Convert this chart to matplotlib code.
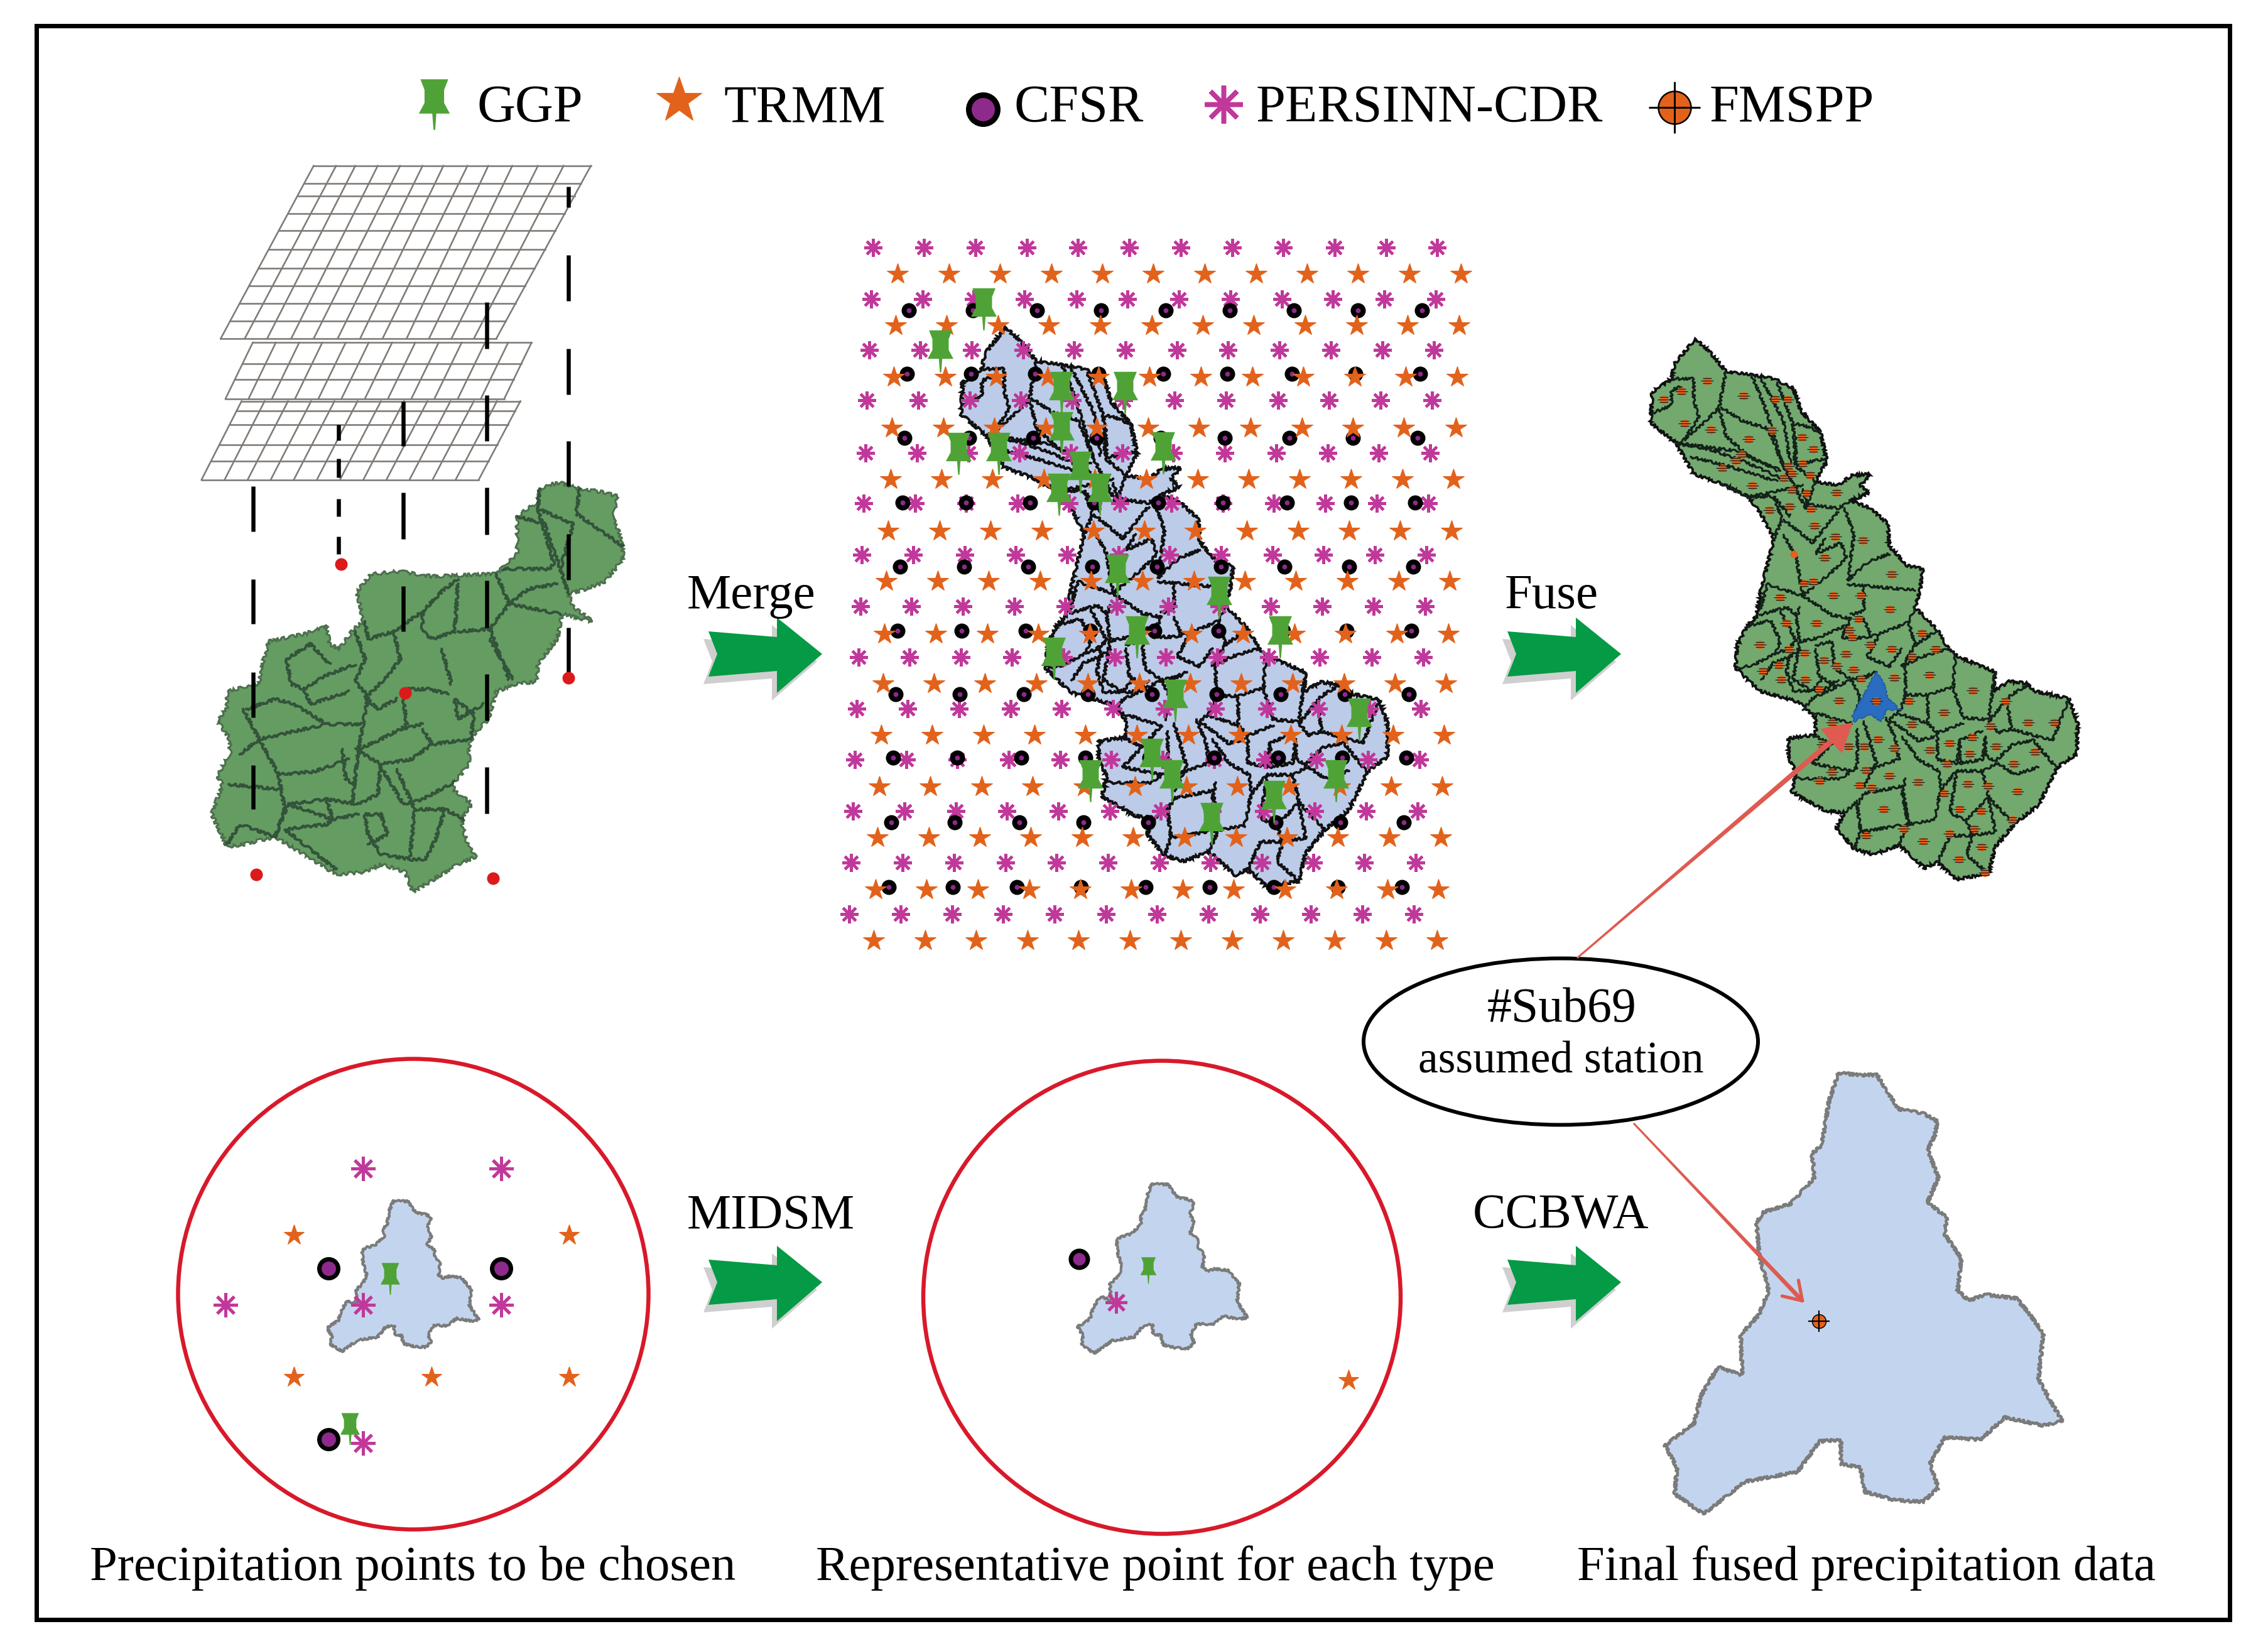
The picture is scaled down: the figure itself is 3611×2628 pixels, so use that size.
import numpy as np
import matplotlib
matplotlib.use("Agg")
import matplotlib.pyplot as plt
from matplotlib.path import Path
from matplotlib.patches import Ellipse, Rectangle, FancyArrowPatch

plt.rcParams['font.family'] = ['Liberation Serif', 'DejaVu Serif']

W, H = 3612, 2628
P = 0.72  # px -> pt at dpi 100

ORANGE = '#e2621b'; PINK = '#c0399a'; PURPLE = '#8e2a8c'; PINGREEN = '#4fa336'
RED = '#d8192a'; ARROW = '#df5a50'

# ---- legend / text
legend_labels = ['GGP', 'TRMM', 'CFSR', 'PERSINN-CDR', 'FMSPP']
legend_text_x = [760, 1152, 1615, 2000, 2722]
step_labels = ['Merge', 'Fuse', 'MIDSM', 'CCBWA']
step_xy = [(1094, 968), (2396, 968), (1094, 1955), (2345, 1955)]
captions = ['Precipitation points to be chosen', 'Representative point for each type', 'Final fused precipitation data']
caption_x = [143, 1299, 2511]

# ---- panel A (crop 280,220,800,1250)
grid1_top = [430, 500, 560, 630, 700, 770, 835, 910, 975, 1050, 1130, 1210, 1295]
grid1_bot = [140, 215, 285, 360, 430, 505, 575, 645, 720, 790, 860, 930, 1000]
grid1_rows = [55, 90, 115, 150, 185, 222, 260, 295, 330, 365, 400]
grid2_top = [240, 312, 385, 457, 530, 602, 675, 747, 820, 892, 965, 1037, 1110]
grid2_bot = [155, 227, 300, 372, 445, 517, 590, 662, 735, 807, 880, 952, 1025]
grid2_rows = [408, 450, 482, 520]
grid3_top = [205, 277, 350, 422, 495, 567, 640, 712, 785, 857, 930, 1002, 1075]
grid3_bot = [80, 152, 224, 296, 368, 440, 512, 585, 657, 729, 801, 873, 945]
grid3_rows = [525, 545, 572, 612, 645, 682]
dash_segments = [
    (1225, [(97, 138), (233, 325), (420, 512), (605, 695), (790, 882), (977, 1070)]),
    (970, [(328, 420), (513, 605), (698, 792), (883, 977), (1070, 1163), (1256, 1348)]),
    (710, [(525, 615), (708, 800), (895, 985)]),
    (507, [(572, 603), (640, 678), (720, 755), (795, 830)]),
    (242, [(695, 785), (880, 970), (1066, 1157), (1252, 1340)]),
]
red_dots = [(515, 850), (716, 1108), (1225, 1077), (250, 1470), (990, 1478)]
map_a = [(1135,700),(1165,692),(1200,688),(1260,700),(1320,705),(1378,715),(1365,760),(1385,790),(1395,815),(1395,840),(1340,885),(1280,900),(1225,910),(1240,935),(1300,965),(1240,955),(1205,950),(1190,1000),(1130,1050),(1125,1085),(1060,1090),(1000,1105),(975,1160),(930,1190),(915,1215),(915,1250),(870,1285),(865,1300),(925,1330),(890,1360),(905,1400),(935,1435),(880,1450),(830,1470),(740,1505),(715,1465),(640,1450),(590,1465),(500,1470),(400,1430),(310,1395),(210,1410),(160,1415),(112,1350),(145,1290),(130,1275),(170,1225),(165,1195),(130,1165),(160,1135),(160,1105),(220,1095),(260,1090),(265,1060),(290,1005),(400,990),(470,975),(480,1010),(510,1020),(555,980),(585,965),(565,905),(610,870),(700,865),(800,875),(1000,870),(1065,830),(1065,755),(1130,725)]
map_a_lines = [
    [(590,965),(600,1000),(680,985),(770,945),(770,985),(800,1000),(870,985),(880,890)],
    [(770,945),(830,905),(880,880)],
    [(680,985),(700,1040),(660,1075),(595,1115)],
    [(560,985),(590,1040),(560,1085),(600,1115),(570,1220),(550,1330)],
    [(1135,700),(1130,740),(1240,770),(1200,860),(1225,910)],
    [(1065,755),(1150,770),(1200,860)],
    [(1260,700),(1250,750),(1340,790),(1395,815)],
    [(1130,740),(1180,850),(1165,860),(1020,860)],
    [(1000,870),(1040,930),(980,980),(1040,1080)],
    [(880,985),(980,980)],
    [(1190,890),(1100,900),(1040,930),(1200,950)],
    [(345,1040),(360,1090),(400,1100),(460,1075),(560,1050)],
    [(345,1040),(420,1010),(480,1050)],
    [(400,1100),(420,1130),(540,1105)],
    [(220,1140),(310,1120),(370,1130),(420,1150),(470,1170),(580,1170)],
    [(210,1140),(260,1200),(400,1180),(470,1170)],
    [(260,1200),(320,1270),(430,1265),(540,1240)],
    [(570,1220),(640,1200),(700,1180),(770,1170)],
    [(770,1180),(800,1210),(920,1200)],
    [(710,1120),(720,1170),(700,1180)],
    [(590,1115),(630,1140),(690,1120)],
    [(800,1210),(735,1240),(640,1250),(560,1220)],
    [(520,1220),(530,1280),(560,1290)],
    [(640,1250),(630,1310),(570,1330),(470,1320),(350,1330)],
    [(640,1255),(710,1330),(770,1320),(870,1285)],
    [(690,1260),(745,1340),(730,1440)],
    [(745,1340),(840,1340),(900,1360)],
    [(840,1340),(810,1400),(780,1440),(735,1440),(640,1430),(600,1390),(590,1350),(640,1350),(660,1390),(600,1410)],
    [(570,1350),(490,1360),(350,1330),(310,1395)],
    [(470,1320),(490,1360),(470,1370),(340,1380),(500,1460)],
    [(320,1270),(340,1340),(310,1395),(200,1370),(160,1410)],
    [(165,1290),(320,1300)],
    [(200,1230),(260,1200)],
    [(920,1200),(930,1150),(870,1120),(880,1160),(960,1130)],
    [(850,1110),(790,1100),(720,1100)],
    [(830,1020),(860,1090)],
    [(1050,1080),(980,1000)],
]

# ---- basin (crop 2600,500,800,950), used for the Merge and Fuse panels
basin = [(195,65),(240,100),(290,150),(370,160),(440,170),(500,195),(525,255),(585,310),(605,385),(570,440),(640,450),(680,425),(740,420),(710,450),(735,470),(680,490),(740,510),(795,550),(800,610),(855,660),(905,670),(895,730),(880,770),(950,830),(985,880),(1015,900),(1130,940),(1125,990),(1175,965),(1230,970),(1250,990),(1360,1010),(1388,1075),(1385,1155),(1325,1190),(1265,1290),(1190,1340),(1130,1400),(1110,1470),(1010,1485),(950,1440),(910,1455),(830,1395),(750,1420),(690,1405),(635,1350),(660,1310),(600,1305),(495,1255),(510,1205),(485,1165),(485,1115),(570,1105),(570,1060),(520,1020),(395,990),(320,930),(325,870),(355,820),(385,795),(400,720),(425,640),(440,590),(400,525),(360,480),(275,445),(190,420),(135,340),(55,285),(60,205),(120,170),(130,130)]
basin_lines = [
    [(60,260),(120,240),(120,200),(150,190)],
    [(120,170),(190,170),(190,225),(205,270),(160,330)],
    [(290,150),(275,215),(270,245),(235,275),(165,325),(135,340)],
    [(275,245),(340,280),(420,300),(470,400)],
    [(370,160),(410,240),(430,290),(465,395)],
    [(400,170),(470,280),(490,390)],
    [(450,180),(500,290),(505,395)],
    [(270,250),(290,320),(370,380),(460,410)],
    [(150,340),(330,360),(450,410)],
    [(135,340),(240,355),(340,385),(460,430)],
    [(180,375),(300,400),(450,440)],
    [(275,445),(360,480),(480,460),(530,450)],
    [(495,290),(525,290),(585,310)],
    [(505,310),(510,400),(570,440)],
    [(510,395),(600,380)],
    [(470,400),(540,510),(570,440)],
    [(360,480),(440,480),(490,530)],
    [(440,480),(465,540),(440,590)],
    [(530,460),(545,500),(640,510),(680,490)],
    [(470,540),(560,600),(640,520)],
    [(660,510),(690,580),(670,700),(735,650),(800,630)],
    [(600,590),(570,630),(650,600),(665,640),(630,670),(530,740)],
    [(470,580),(510,640),(530,740),(420,710),(395,780)],
    [(670,710),(740,715),(880,725)],
    [(720,720),(720,780),(680,790)],
    [(530,740),(620,790),(680,800)],
    [(520,770),(510,800),(520,860),(580,850),(660,820)],
    [(395,790),(480,770),(510,790)],
    [(460,780),(510,860),(480,880)],
    [(680,800),(650,850),(720,850),(770,840),(860,810),(880,770)],
    [(720,800),(740,840)],
    [(860,810),(880,870),(950,830)],
    [(880,870),(840,925),(900,900),(985,880)],
    [(770,840),(730,900),(800,925),(840,880)],
    [(355,820),(430,805),(460,860),(445,890),(380,920),(330,930)],
    [(445,890),(490,880),(480,940),(500,990)],
    [(400,960),(440,915),(490,900),(520,880)],
    [(520,860),(500,960),(560,990),(590,960)],
    [(570,870),(620,860),(630,930),(680,960),(740,950)],
    [(570,880),(580,950),(630,975)],
    [(850,925),(850,1000),(920,1000),(1000,980),(1005,900)],
    [(1000,985),(1030,1060),(1110,1065),(1130,940)],
    [(920,1005),(920,1075),(950,1100),(1030,1075)],
    [(830,1050),(920,1075)],
    [(800,1065),(890,1120),(940,1110)],
    [(1110,1070),(1180,1000),(1230,975)],
    [(1170,1030),(1180,1090),(1310,1120),(1360,1010)],
    [(1110,1070),(1140,1100),(1180,1090)],
    [(1100,1110),(1100,1160),(1130,1175),(1185,1130)],
    [(1185,1130),(1250,1120),(1320,1190)],
    [(1140,1180),(1190,1210),(1265,1190)],
    [(950,1100),(950,1170),(1010,1180),(1020,1120),(1090,1095)],
    [(1020,1120),(1020,1180),(1090,1170),(1100,1110)],
    [(840,1110),(890,1170),(955,1200),(960,1250),(940,1330)],
    [(850,1220),(840,1260),(860,1340),(940,1330)],
    [(960,1250),(1010,1200),(1090,1200),(1140,1180)],
    [(1090,1200),(1110,1270),(1190,1340)],
    [(1010,1200),(990,1310),(1040,1330),(1110,1270)],
    [(1040,1330),(1060,1370),(1130,1360),(1110,1270)],
    [(950,1440),(990,1370),(1060,1370)],
    [(1060,1370),(1040,1420),(1110,1470)],
    [(830,1390),(860,1340)],
    [(700,1290),(720,1260),(840,1240),(860,1340),(710,1360),(700,1290)],
    [(710,1360),(690,1405)],
    [(700,1090),(700,1190),(650,1220),(500,1220)],
    [(720,1070),(760,1180),(720,1240)],
    [(790,1060),(820,1120),(830,1170),(720,1200)],
    [(560,1105),(620,1130),(680,1075),(560,1045)],
    [(620,1130),(560,1180),(680,1200)],
    [(660,1310),(700,1280)],
    [(530,1040),(560,1010),(680,960),(710,1010)],
    [(500,990),(590,990),(640,960)],
    [(710,1010),(690,1060)],
    [(835,1040),(800,1065)],
    [(760,940),(700,960)],
    [(835,1040),(850,1000)],
]
sub69 = [(760,940),(785,975),(795,1010),(835,1040),(790,1040),(775,1072),(740,1050),(690,1070),(685,1055),(720,1000),(745,960)]
fused_points = [(232,175),(150,203),(97,225),(160,288),(243,303),(345,215),(443,222),(483,225),(433,305),(528,323),(360,328),(563,355),(340,368),(322,385),(278,405),(530,392),(485,400),(470,430),(495,420),(553,422),(372,450),(495,462),(540,470),(635,468),(425,515),(488,505),(555,512),(567,557),(632,585),(718,595),(598,640),(808,683),(533,708),(563,703),(625,740),(712,740),(458,745),(802,775),(703,800),(478,812),(573,812),(675,830),(685,850),(902,838),(740,868),(395,868),(487,882),(535,890),(595,910),(665,893),(807,880),(945,880),(870,900),(455,922),(405,938),(635,925),(688,935),(925,948),(815,955),(538,960),(463,960),(712,958),(580,985),(1060,988),(1163,1017),(643,1015),(758,1017),(860,1017),(970,1047),(1233,1073),(1315,1073),(622,1073),(870,1077),(1115,1083),(1058,1112),(765,1118),(987,1128),(1133,1135),(592,1130),(673,1135),(722,1135),(815,1140),(928,1145),(1255,1150),(1050,1155),(980,1182),(1187,1182),(622,1203),(727,1198),(800,1213),(583,1227),(707,1238),(745,1245),(890,1230),(1045,1235),(1107,1240),(1200,1255),(970,1260),(782,1300),(1020,1300),(1085,1305),(1183,1328),(845,1352),(1065,1352),(988,1365),(728,1370),(905,1385),(1087,1400),(1017,1432),(1097,1468)]
lone_dot = [(502, 630)]

# ---- Merge points (crop 1320,360,1050,1200)
persinn_rows = {
    45: [105,226,348,470,592,714,836,958,1080,1202,1324,1446],
    152: [100,222,344,465,588,710,832,954,1076,1198,1320,1442],
    258: [95,217,339,461,583,705,827,949,1071,1193,1316,1438],
    362: [90,212,334,456,578,700,822,944,1067,1189,1311,1434],
    472: [87,209,331,453,575,697,819,941,1063,1185,1307,1429],
    576: [82,204,326,448,570,692,814,936,1058,1180,1302,1424],
    683: [78,200,322,444,566,688,810,932,1054,1176,1298,1420],
    790: [74,196,318,440,562,684,806,928,1050,1172,1295,1417],
    896: [70,191,313,435,557,679,801,923,1045,1167,1290,1412],
    1003: [65,187,309,431,553,675,797,919,1041,1163,1285,1407],
    1110: [61,183,305,427,549,671,793,915,1037,1159,1281,1403],
    1217: [57,179,301,423,545,667,789,911,1033,1155,1277,1399],
    1324: [53,175,297,419,541,663,785,907,1029,1151,1273,1395],
    1431: [48,170,292,414,536,658,780,902,1024,1146,1268,1390],
}
trmm_rows = {
    99: [163,285,406,528,650,771,893,1015,1137,1258,1380,1502],
    206: [158,280,402,523,645,767,889,1010,1132,1254,1376,1498],
    313: [154,276,397,519,641,762,884,1006,1128,1250,1371,1494],
    420: [150,272,393,515,636,758,880,1002,1124,1245,1367,1490],
    527: [146,267,389,510,632,754,876,997,1119,1241,1363,1485],
    634: [141,263,384,506,628,750,871,993,1115,1236,1358,1480],
    738: [136,258,380,502,623,745,867,989,1110,1232,1354,1476],
    848: [132,254,376,497,619,741,862,984,1106,1228,1350,1472],
    951: [128,250,371,493,615,737,858,980,1102,1224,1345,1467],
    1058: [124,245,367,489,610,732,854,975,1097,1219,1341,1462],
    1165: [119,241,363,484,606,728,850,971,1093,1214,1336,1458],
    1272: [115,237,358,480,602,723,845,967,1088,1210,1332,1454],
    1380: [110,232,354,476,597,719,841,962,1084,1206,1328,1449],
    1486: [106,228,350,472,593,715,837,958,1080,1202,1324,1445],
}
cfsr_rows = {
    175: [190,342,494,647,800,953,1105,1257,1410],
    307: [185,337,490,641,794,947,1100,1252,1405],
    440: [179,333,485,636,789,941,1095,1245,1400],
    575: [174,326,478,630,783,936,1089,1241,1394],
    708: [169,321,473,626,779,932,1083,1236,1389],
    841: [163,315,468,621,773,926,1079,1231,1384],
    973: [158,310,463,616,768,921,1073,1226,1378],
    1106: [153,305,457,610,762,915,1067,1220,1373],
    1240: [148,299,452,605,758,910,1062,1215,1367],
    1375: [142,294,447,599,752,905,1057,1209,1362],
}
ggp_points = [(367,158),(265,245),(553,332),(703,332),(553,416),(308,458),(403,458),(795,457),(597,498),(547,543),(643,543),(686,712),(928,758),(731,840),(1072,840),(534,885),(823,972),(1261,1012),(768,1095),(621,1140),(815,1140),(1205,1140),(1058,1182),(910,1228)]

# ---- Sub-basin (crop 2150,1500,1200,1000)
sub_shape = [(1015,330),(1060,335),(1095,335),(1115,375),(1140,420),(1190,430),(1220,450),(1215,485),(1200,520),(1222,590),(1200,650),(1240,690),(1235,730),(1270,790),(1262,870),(1285,895),(1320,880),(1385,890),(1415,935),(1440,975),(1430,1090),(1455,1145),(1480,1195),(1440,1205),(1360,1185),(1310,1240),(1235,1235),(1205,1300),(1222,1360),(1190,1395),(1130,1390),(1070,1370),(1060,1310),(1020,1300),(1020,1240),(975,1245),(930,1320),(820,1345),(735,1425),(675,1375),(680,1310),(655,1255),(715,1200),(730,1130),(765,1060),(815,1080),(812,980),(850,930),(870,870),(850,780),(845,700),(860,675),(915,655),(965,590),(960,530),(980,510),(995,400)]

# ---- circle 1 points (crop 260,1660,1000,900)
c1_persinn = [(498,349),(843,349),(155,727),(498,727),(843,727),(498,1110)]
c1_trmm = [(326,533),(1013,533),(326,927),(670,927),(1013,927)]
c1_cfsr = [(412,625),(843,625),(412,1100)]
c1_ggp = [(566,640),(466,1055)]
# ---- circle 2 points (figure pixels)
c2_persinn = [(1777, 2073)]
c2_trmm = [(2147, 2197)]
c2_cfsr = [(1718, 2004)]
c2_ggp = [(1828, 2015)]

arrow_shape = [(-181,-36),(-72,-27),(-72,-58),(0,0),(-72,62),(-72,27),(-181,36),(-167,0)]
arrow_tips = [(1309,1041),(2581,1041),(1309,2041),(2581,2041)]

# ---------------------------------------------------------------------
PIN = Path([(-17,21),(17,21),(12,8),(12,-8),(19,-21),(2.5,-21),(1,-41),(-1,-41),(-2.5,-21),(-19,-21),(-12,-8),(-12,8),(-17,21)], closed=True)
STRIPES = Path([(-.75,.4),(.75,.4),(-1,0),(1,0),(-.75,-.4),(.75,-.4)],
               [Path.MOVETO, Path.LINETO, Path.MOVETO, Path.LINETO, Path.MOVETO, Path.LINETO])

fig = plt.figure(figsize=(W/100, H/100), dpi=100, facecolor='white')
ax = fig.add_axes([0, 0, 1, 1])
ax.set_xlim(0, W); ax.set_ylim(H, 0); ax.axis('off')


def crop(pts, box):
    a = np.asarray(pts, float)
    return box[0] + a[:, 0]*box[2]/1568, box[1] + a[:, 1]*box[3]/1568


def rows_to_pts(rows):
    return [(x, y) for y, xs in rows.items() for x in xs]


def rough(artists, scale=2.5, length=22, rnd=10):
    for a in artists:
        a.set_sketch_params(scale, length, rnd)


def stars(x, y, px, z=5):
    ax.plot(x, y, ls='', marker='*', ms=px*P, mfc=ORANGE, mec=ORANGE, mew=0.8, zorder=z)


def asters(x, y, px, z=4, w=3.5):
    ax.plot(x, y, ls='', marker=(8, 2, 0), ms=px*P, mec=PINK, mew=w*P, zorder=z)


def cfsr(x, y, px, ew, z=4.5):
    ax.plot(x, y, ls='', marker='o', ms=px*P, mfc=PURPLE, mec='black', mew=ew*P, zorder=z)


def pins(x, y, scale, z=6):
    ax.plot(x, y, ls='', marker=PIN, ms=82*scale*P, mfc=PINGREEN, mec=PINGREEN, mew=0, zorder=z)


# frame
ax.add_patch(Rectangle((58, 41), 3492, 2537, fill=False, ec='black', lw=7*P, zorder=10))

# panel A
A = (280, 220, 800, 1250)
for top, bot, rows in [(grid1_top, grid1_bot, grid1_rows), (grid2_top, grid2_bot, grid2_rows), (grid3_top, grid3_bot, grid3_rows)]:
    for a, b in zip(top, bot):
        x, y = crop([(a, rows[0]), (b, rows[-1])], A)
        ax.plot(x, y, color='#7f7a76', lw=2.6*P, zorder=2)
    for r in rows:
        xl = np.interp(r, [rows[0], rows[-1]], [top[0], bot[0]])
        xr = np.interp(r, [rows[0], rows[-1]], [top[-1], bot[-1]])
        x, y = crop([(xl, r), (xr, r)], A)
        ax.plot(x, y, color='#7f7a76', lw=2.6*P, zorder=2)
x, y = crop(map_a, A)
rough(ax.fill(x, y, fc='#659c62', ec='#4d6f4e', lw=3*P, zorder=2))
for line in map_a_lines:
    x, y = crop(line, A)
    rough(ax.plot(x, y, color='#33533a', lw=4*P, zorder=2.5, solid_joinstyle='round'), 2, 18, 10)
for xc, segs in dash_segments:
    for s0, s1 in segs:
        x, y = crop([(xc, s0), (xc, s1)], A)
        ax.plot(x, y, color='black', lw=6.5*P, zorder=3, solid_capstyle='butt')
x, y = crop(red_dots, A)
ax.plot(x, y, ls='', marker='o', ms=20*P, mfc='#dc1a1a', mec='none', zorder=4)

# basin panels
FUSE = (2600, 500, 800, 950)
def fuse_xy(pts):
    return crop(pts, FUSE)
def merge_xy(pts):
    x, y = crop(pts, FUSE)
    return x - 1098, 521 + (y - 539)*1.035

x, y = merge_xy(basin)
rough(ax.fill(x, y, fc='#bccbe8', ec='#111111', lw=4*P, zorder=2), 2, 14, 8)
for line in basin_lines:
    x, y = merge_xy(line)
    rough(ax.plot(x, y, color='#111111', lw=3.8*P, zorder=2.5), 2, 14, 8)

x, y = fuse_xy(basin)
rough(ax.fill(x, y, fc='#73a96f', ec='#111111', lw=3.6*P, zorder=2), 2, 14, 8)
for line in basin_lines:
    x, y = fuse_xy(line)
    rough(ax.plot(x, y, color='#14221a', lw=3.2*P, zorder=2.5), 2, 14, 8)
x, y = fuse_xy(sub69)
rough(ax.fill(x, y, fc='#2a6cc0', ec='#1f5aa8', lw=1.5*P, zorder=3), 1.5, 12, 8)
x, y = fuse_xy(fused_points)
ax.plot(x, y, ls='', marker='o', ms=13*P, mfc=ORANGE, mec='none', zorder=4)
ax.plot(x, y, ls='', marker=STRIPES, ms=20*P, mec='#1a1a1a', mew=1.2*P, mfc='none', zorder=4.2)
x, y = fuse_xy(lone_dot)
ax.plot(x, y, ls='', marker='o', ms=12*P, mfc=ORANGE, mec='none', zorder=4)

# merge marks
M = (1320, 360, 1050, 1200)
x, y = crop(rows_to_pts(persinn_rows), M); asters(x, y, 29, w=4.2)
x, y = crop(rows_to_pts(cfsr_rows), M); cfsr(x, y, 16, 8)
x, y = crop(rows_to_pts(trmm_rows), M); stars(x, y, 35)
x, y = crop(ggp_points, M); pins(x, y, 1.08)

# big arrows
shape = np.array(arrow_shape, float)
for tx, ty in arrow_tips:
    ax.fill(tx + shape[:, 0] - 8, ty + shape[:, 1] + 12, fc='#cfcfcf', ec='none', zorder=2)
    ax.fill(tx + shape[:, 0], ty + shape[:, 1], fc='#059a45', ec='none', zorder=3)

# circles
ax.add_patch(Ellipse((658, 2060), 749, 749, fill=False, ec=RED, lw=6.5*P, zorder=2))
ax.add_patch(Ellipse((1850, 2065), 760, 753, fill=False, ec=RED, lw=6.5*P, zorder=2))


def small_shape(x0, x1, y0, y1, fc, ec, lw, s):
    a = np.asarray(sub_shape, float)
    sx = (x1 - x0)/(a[:, 0].max() - a[:, 0].min())
    sy = (y1 - y0)/(a[:, 1].max() - a[:, 1].min())
    rough(ax.fill(x0 + (a[:, 0] - a[:, 0].min())*sx, y0 + (a[:, 1] - a[:, 1].min())*sy, fc=fc, ec=ec, lw=lw*P, zorder=3, joinstyle='round'), s, 12, 8)


small_shape(521, 762, 1911, 2151, '#c3d5ee', '#7b7b7b', 4, 1.5)
small_shape(1716, 1986, 1884, 2154, '#c3d5ee', '#7b7b7b', 4, 1.5)
small_shape(2651, 3284, 1708, 2410, '#c3d5ee', '#7b7b7b', 4.5, 2)

C1 = (260, 1660, 1000, 900)
x, y = crop(c1_persinn, C1); asters(x, y, 38, w=5)
x, y = crop(c1_trmm, C1); stars(x, y, 34)
x, y = crop(c1_cfsr, C1); cfsr(x, y, 30, 7)
x, y = crop(c1_ggp, C1); pins(x, y, 0.82)
x, y = zip(*c2_persinn); asters(x, y, 35, w=5)
x, y = zip(*c2_trmm); stars(x, y, 34)
x, y = zip(*c2_cfsr); cfsr(x, y, 27, 7)
x, y = zip(*c2_ggp); pins(x, y, 0.68)

# fused point in the big sub-basin
ax.plot([2896], [2103], ls='', marker='o', ms=22*P, mfc=ORANGE, mec='black', mew=1.5*P, zorder=6)
ax.plot([2896], [2103], ls='', marker='+', ms=34*P, mec='black', mew=2.2*P, zorder=6.2)

# callout
ax.add_patch(Ellipse((2485, 1658), 628, 265, fc='white', ec='black', lw=6*P, zorder=7))
ax.text(2487, 1626, '#Sub69', ha='center', va='baseline', fontsize=56, zorder=8)
ax.text(2485, 1707, 'assumed station', ha='center', va='baseline', fontsize=51.5, zorder=8)


def wedge(p0, p1, w0, w1):
    p0, p1 = np.array(p0, float), np.array(p1, float)
    n = np.array([-(p1-p0)[1], (p1-p0)[0]]) / np.linalg.norm(p1-p0)
    v = np.array([p0 + n*w0/2, p1 + n*w1/2, p1 - n*w1/2, p0 - n*w0/2])
    ax.fill(v[:, 0], v[:, 1], fc=ARROW, ec='none', zorder=8)


wedge((2511, 1525), (2925, 1172), 3, 9)
ax.add_patch(FancyArrowPatch((2900, 1193), (2950, 1150), arrowstyle='-|>,head_length=30,head_width=17', mutation_scale=1,
                             color=ARROW, lw=2, shrinkA=0, shrinkB=0, zorder=8))
wedge((2601, 1788), (2870, 2071), 3, 7)
ax.add_patch(FancyArrowPatch((2800, 1998), (2873, 2074), arrowstyle='->,head_length=20,head_width=13', mutation_scale=1,
                             color=ARROW, lw=3.8, shrinkA=0, shrinkB=0, zorder=8))

# legend
for lab, lx in zip(legend_labels, legend_text_x):
    ax.text(lx, 194, lab, ha='left', va='baseline', fontsize=60.7, zorder=8)
pins([691], [153], 1.3)
stars([1081], [160], 76)
cfsr([1565], [174], 46, 9)
asters([1948], [166], 60, w=7.5)
ax.plot([2666], [171], ls='', marker='o', ms=52*P, mfc=ORANGE, mec='black', mew=2.5*P, zorder=6)
ax.plot([2666], [171], ls='', marker='+', ms=82*P, mec='black', mew=3*P, zorder=6.2)

for lab, (tx, ty) in zip(step_labels, step_xy):
    ax.text(tx, ty, lab, ha='left', va='baseline', fontsize=56.8, zorder=8)
for lab, cx in zip(captions, caption_x):
    ax.text(cx, 2515, lab, ha='left', va='baseline', fontsize=56.7, zorder=8)

fig.savefig('out.png', dpi=100, facecolor='white')
